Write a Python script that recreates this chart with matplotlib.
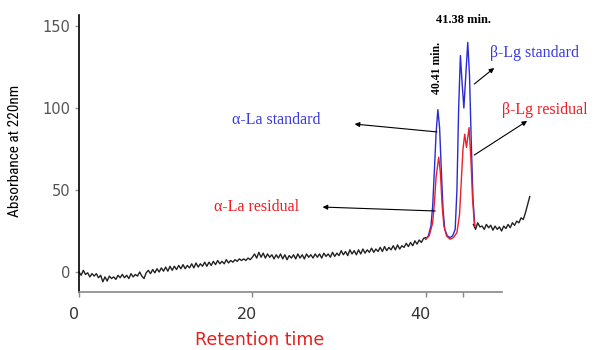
import matplotlib.pyplot as plt
import matplotlib.transforms as mtransforms
import numpy as np

# baseline sampled every 0.25 min from 0 to 40 min
base_t = np.linspace(0, 40, 161)
base_y = [
    0, -2, 1, -1.5, -0.5, -3, -1, -2.5, -1, -3.5,
    -2, -6, -3, -5.5, -2.5, -4, -3, -4.5, -2, -3.5,
    -1.5, -3.5, -2, -4, -1, -3, -1.5, -2.5, 0, -2.5,
    -4, -0.5, 1, -1, 1.5, -0.5, 2, 0, 2.5, 0.5,
    3, 0.5, 3.5, 1, 3.5, 1.5, 4, 2, 4.5, 2,
    4, 2.5, 5, 2.5, 5.5, 3, 5, 3.5, 6, 3.5,
    6, 4, 6.5, 4.5, 7, 5, 6.5, 5, 7.5, 5.5,
    7, 6, 7.5, 6.5, 8, 7, 8, 7, 8.5, 7.5,
    9, 11, 8.5, 12, 9, 11.5, 8.5, 11, 9, 10.5,
    8, 10.5, 8.5, 11, 8, 10.5, 7.5, 10, 8.5, 10.5,
    8, 11, 8.5, 10.5, 8, 11, 9, 10.5, 8.5, 11,
    9, 11, 8.5, 11.5, 9.5, 11, 9, 12, 9.5, 11.5,
    10, 13, 10.5, 12.5, 10, 13.5, 11, 13, 10.5, 13.5,
    11, 14, 11.5, 13.5, 12, 14.5, 12, 14, 12.5, 15,
    12.5, 15.5, 13, 15, 13.5, 16, 13.5, 16.5, 14, 16,
    15, 17.5, 15.5, 18, 16, 19, 17, 19.5, 18, 20.5,
    21,
]

# tail after the beta-Lg peaks, every 0.25 min from 45.5 to 52 min
tail_t = np.linspace(45.5, 52, 27)
tail_y = [
    29, 26, 30, 27.5, 28, 26, 29, 27, 28.5, 25.5,
    28, 26, 27.5, 25, 28, 26.5, 29, 27, 30, 28.5,
    31, 30, 33, 32, 36, 41, 46,
]

# standards (blue) and residual whey (red) over the protein peaks
std_t = [40.0, 40.3, 40.6, 40.8, 41.0, 41.2, 41.4, 41.6, 41.8, 42.0, 42.2, 42.5,
         42.8, 43.1, 43.4, 43.6, 43.8, 44.0, 44.2, 44.4, 44.6, 44.85, 45.05,
         45.25, 45.45, 45.65]
std_y = [20, 22, 28, 40, 62, 85, 99, 88, 62, 38, 26, 22,
         21, 22, 26, 50, 100, 132, 115, 100, 118, 140, 120,
         80, 45, 29]

res_t = [40.0, 40.4, 40.8, 41.0, 41.2, 41.5, 41.7, 41.9, 42.1, 42.4, 42.8, 43.2,
         43.6, 43.9, 44.1, 44.3, 44.5, 44.7, 45.0, 45.2, 45.4, 45.6, 45.7]
res_y = [20, 22, 30, 42, 58, 70, 60, 40, 28, 22, 20, 21,
         24, 35, 55, 75, 84, 76, 88, 70, 45, 30, 28]

W, H = 596, 350
fig = plt.figure(figsize=(W / 100, H / 100), dpi=100)
ax = fig.add_axes([79 / W, 1 - 292 / H, (502 - 79) / W, (292 - 15) / H])
ax.set_xlim(0, 48.8)
ax.set_ylim(-12.2, 156.7)

ax.plot(base_t, base_y, color='#222222', lw=1.0, clip_on=False)
ax.plot(tail_t, tail_y, color='#222222', lw=1.0, clip_on=False)
ax.plot(std_t, std_y, color='#2a2ad2', lw=1.0, clip_on=False)
ax.plot(res_t, res_y, color='#e8202a', lw=1.0, clip_on=False)

for side in ['top', 'right']:
    ax.spines[side].set_visible(False)
ax.spines['left'].set_color('black')
ax.spines['left'].set_linewidth(1.2)
ax.spines['bottom'].set_color('#888888')
ax.spines['bottom'].set_linewidth(1.2)

ax.set_yticks([0, 50, 100, 150])
ax.tick_params(axis='y', length=3, width=1, color='#999999', labelcolor='#555555',
               labelsize=10.5, pad=3)
ax.set_xticks([0, 20, 40])
ax.set_xticks([44.3], minor=True)
ax.tick_params(axis='x', which='both', length=3.5, width=1, color='#888888',
               labelcolor='#333333', labelsize=11.5, pad=7)

# nudge the x tick labels a little to the left of their ticks
shift = mtransforms.ScaledTranslation(-5 / 100, 0, fig.dpi_scale_trans)
for lbl in ax.get_xticklabels():
    lbl.set_transform(lbl.get_transform() + shift)

# axis titles placed in figure coordinates
fig.text(15 / W, 1 - 151 / H, 'Absorbance at 220nm',
         family=['Liberation Sans Narrow', 'Roboto Condensed', 'Liberation Sans'],
         fontsize=11, rotation=90, ha='center', va='center')
fig.text(260 / W, 1 - 340 / H, 'Retention time', color='#e32020', fontsize=12.5,
         ha='center', va='center')

serif = ['Liberation Serif', 'DejaVu Serif']
arrow = dict(arrowstyle='-|>', color='black', lw=0.8, mutation_scale=7,
             shrinkA=0, shrinkB=0)

ax.text(22.7, 92.7, 'α-La standard', color='#3a3ae0', family=serif, fontsize=11.5,
        ha='center', va='center')
ax.annotate('', xy=(31.8, 90.2), xytext=(41.3, 85.4), arrowprops=arrow)
ax.text(20.5, 39.6, 'α-La residual', color='#f01c24', family=serif, fontsize=11.5,
        ha='center', va='center')
ax.annotate('', xy=(28.1, 39.6), xytext=(41.1, 37.2), arrowprops=arrow)

ax.text(52.6, 133.5, 'β-Lg standard', color='#3a3ae0', family=serif, fontsize=11.5,
        ha='center', va='center', clip_on=False)
ax.annotate('', xy=(47.9, 124.4), xytext=(45.6, 114.6), arrowprops=arrow,
            annotation_clip=False)
ax.text(53.7, 98.8, 'β-Lg residual', color='#f01c24', family=serif, fontsize=11.5,
        ha='center', va='center', clip_on=False)
ax.annotate('', xy=(51.7, 92.1), xytext=(45.6, 71.3), arrowprops=arrow,
            annotation_clip=False)

ax.text(44.3, 153.7, '41.38 min.', family=serif, fontweight='bold', fontsize=9,
        ha='center', va='center', clip_on=False)
ax.text(41.3, 124.4, '40.41 min.', family=serif, fontweight='bold', fontsize=8.5,
        rotation=90, ha='center', va='center')

fig.savefig('out.png', dpi=100)
